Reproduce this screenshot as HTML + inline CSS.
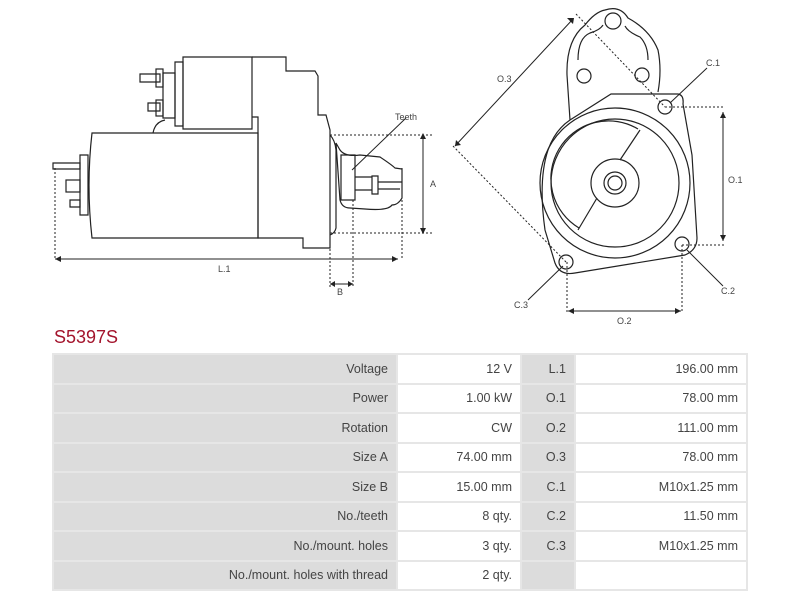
<!DOCTYPE html>
<html><head><meta charset="utf-8"><style>
body{margin:0;background:#fff;width:800px;height:600px;overflow:hidden;font-family:"Liberation Sans",sans-serif;position:relative}
svg{position:absolute;left:0;top:0}
.t{position:absolute;left:54px;top:327px;color:#a3142c;font-size:18px}
table{position:absolute;left:52px;top:353px;width:696px;border-collapse:separate;border-spacing:2px;background:#e6e6e6;font-size:12.5px;color:#444}
td{height:27.5px;text-align:right;padding:0 8px;background:#fff}
td.g{background:#dcdcdc}
</style></head><body>
<svg width="800" height="330" viewBox="0 0 800 330" fill="none" stroke="#222" stroke-width="1.2">
<path d="M92 133 H258 V238 H92 Q86 185 92 133 Z"/>
<path d="M80 155 H88 V215 H80 Z"/>
<rect x="66" y="180" width="14" height="12"/>
<path d="M53 163 H80 V169 H53 Z"/><path d="M70 200 H80 V207 H70 Z"/>
<path d="M183 57 H252 V129 H183 Z"/><path d="M175 62 H183 V126 H175 Z"/>
<path d="M163 73 H175 V118 H163 Z"/><path d="M140 74 H160 V82 H140 Z"/><path d="M148 103 H160 V111 H148 Z"/><rect x="156" y="69" width="7" height="18"/><rect x="156" y="100" width="7" height="16"/>
<path d="M153 133 Q155 122 165 120"/>
<path d="M252 57 H286 V71 H315 L318 76 V115 H326 L330 130 V248 H303 V238 H258 V117 H252"/>
<path d="M330 135 Q335 140 336 150 V228 Q335 233 330 235"/>
<path d="M336 143 L340 150 Q345 157 360 155 L380 157 Q392 165 395 168 L402 169 V198 Q398 205 392 205 Q388 211 365 209 L350 208 Q342 208 340 200 Z"/>
<path d="M341 155 H355 V200 H341 Z"/><path d="M355 177 H372 M355 190 H372 M372 176 H378 V194 H372 Z M378 182 H402 M378 189 H400"/>
<g stroke-dasharray="2,2" stroke-width="1"><path d="M330 135 H432 M330 233 H432 M55 168 V258 M402 168 V258 M330 233 V288 M353 200 V288"/></g>
<path d="M423 135 V232 M55 259 H398 M330 284 H353" stroke-width="1"/>
<path d="M406 118 L352 170" stroke-width="1"/>
<g fill="#222" stroke="none"><path d="M420 139 L423 133 L426 139Z M420 228 L423 234 L426 228Z M61 256 L55 259 L61 262Z M392 256 L398 259 L392 262Z M335 281 L330 284 L335 287Z M348 281 L353 284 L348 287Z"/></g>
<path d="M570 120 L567 75 Q566 40 585 25 Q595 12 605 10 Q620 5 628 18 Q650 30 658 50 Q662 70 658 92"/>
<path d="M578 60 Q578 38 590 33 Q600 30 603 25 M625 26 Q628 32 640 37 Q648 45 648 60"/>
<path d="M611 94 H678 Q684 95 683 104 L692 155 L697 238 Q697 250 685 255 L575 273 Q560 276 555 263 L545 230 Q538 180 548 150 Q555 130 570 120 Z"/>
<circle cx="615" cy="183" r="75"/><circle cx="615" cy="183" r="64"/>
<path d="M638 129 A55 55 0 0 0 579 228"/><path d="M640 130 L620 160 M578 230 L597 198"/>
<circle cx="615" cy="183" r="24"/><circle cx="615" cy="183" r="11"/><circle cx="615" cy="183" r="7"/>
<circle cx="665" cy="107" r="7"/><circle cx="682" cy="244" r="7"/><circle cx="566" cy="262" r="7"/>
<circle cx="613" cy="21" r="8"/><circle cx="584" cy="76" r="7"/><circle cx="642" cy="75" r="7"/>
<g stroke-dasharray="2,2" stroke-width="1"><path d="M665 107 H725 M682 245 H725 M567 262 V313 M682 245 V313 M576 14 L665 107 M453 146 L566 262"/></g>
<path d="M723 112 V241 M568 311 H681 M573 19 L455 146" stroke-width="1"/>
<path d="M707 68 L670 103 M723 286 L687 250 M528 300 L563 266" stroke-width="1"/>
<g fill="#222" stroke="none"><path d="M720 118 L723 112 L726 118Z M720 235 L723 241 L726 235Z M574 308 L568 311 L574 314Z M675 308 L681 311 L675 314Z M567 18 L574 18 L573 24Z M456 140 L455 146 L461 145Z"/></g>
<g fill="#444" stroke="none" font-size="9" font-family="Liberation Sans,sans-serif">
<text x="395" y="120">Teeth</text><text x="430" y="187">A</text><text x="218" y="272">L.1</text><text x="337" y="295">B</text>
<text x="497" y="82">O.3</text><text x="706" y="66">C.1</text><text x="728" y="183">O.1</text><text x="721" y="294">C.2</text><text x="514" y="308">C.3</text><text x="617" y="324">O.2</text>
</g>
</svg>
<div class="t">S5397S</div>
<table>
<colgroup><col style="width:342px"><col style="width:122px"><col style="width:52px"><col></colgroup>
<tr><td class="g">Voltage</td><td>12 V</td><td class="g">L.1</td><td>196.00 mm</td></tr>
<tr><td class="g">Power</td><td>1.00 kW</td><td class="g">O.1</td><td>78.00 mm</td></tr>
<tr><td class="g">Rotation</td><td>CW</td><td class="g">O.2</td><td>111.00 mm</td></tr>
<tr><td class="g">Size A</td><td>74.00 mm</td><td class="g">O.3</td><td>78.00 mm</td></tr>
<tr><td class="g">Size B</td><td>15.00 mm</td><td class="g">C.1</td><td>M10x1.25 mm</td></tr>
<tr><td class="g">No./teeth</td><td>8 qty.</td><td class="g">C.2</td><td>11.50 mm</td></tr>
<tr><td class="g">No./mount. holes</td><td>3 qty.</td><td class="g">C.3</td><td>M10x1.25 mm</td></tr>
<tr><td class="g">No./mount. holes with thread</td><td>2 qty.</td><td class="g"></td><td></td></tr>
</table>
</body></html>
